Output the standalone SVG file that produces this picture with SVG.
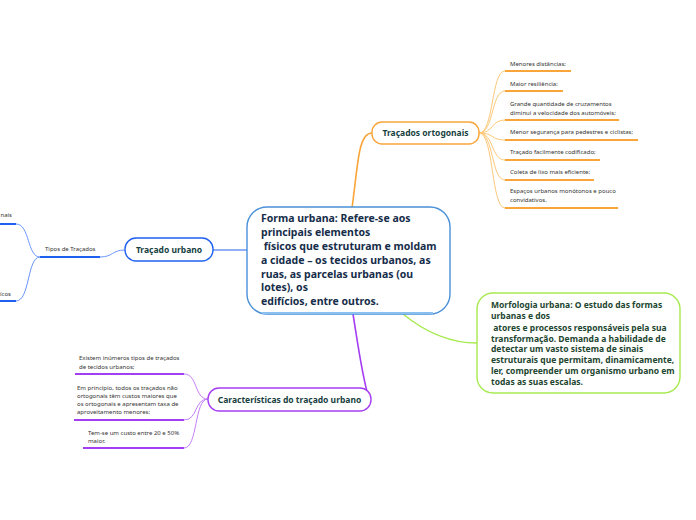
<svg xmlns="http://www.w3.org/2000/svg" width="696" height="520" viewBox="0 0 696 520">
<style>
.t{font-family:"Noto Sans","Open Sans","Liberation Sans",sans-serif}
.b{font-weight:bold;fill:#173f3f}
.s{font-size:6px;fill:#333}
.ul{stroke-width:2;fill:none}
.c{fill:none}
.pre{white-space:pre}
</style>
<rect width="696" height="520" fill="#fff"/>
<g id="connectors">
  <path class="c" d="M352,208 C358,165 358,133 372,133" stroke="#f9a53a" stroke-width="1.6"/>
  <path class="c" d="M247,250 L213,250" stroke="#2060f0" stroke-width="1.2"/>
  <path class="c" d="M353,314 C358,345 362,375 368,395" stroke="#a43ef2" stroke-width="1.6"/>
  <path class="c" d="M403,314 C425,332 450,343 477,343" stroke="#a6ea50" stroke-width="1.4"/>
  <g stroke="#fcc878" stroke-width="1">
    <path class="c" d="M479,133 C494,133 491,71 505,71"/>
    <path class="c" d="M479,133 C494,133 491,91 505,91"/>
    <path class="c" d="M479,133 C494,133 491,120 505,120"/>
    <path class="c" d="M479,133 C494,133 491,140 505,140"/>
    <path class="c" d="M479,133 C494,133 491,160 505,160"/>
    <path class="c" d="M479,133 C494,133 491,180 505,180"/>
    <path class="c" d="M479,133 C494,133 491,208 505,208"/>
  </g>
  <g stroke="#6a95ff" stroke-width="1">
    <path class="c" d="M125,250 C112,250 113,257 100,257"/>
    <path class="c" d="M40,257 C27,257 30,224 16,224"/>
    <path class="c" d="M40,257 C27,257 30,301 16,301"/>
  </g>
  <g stroke="#c47ff7" stroke-width="1">
    <path class="c" d="M208,399 C194,399 198,374 184,374"/>
    <path class="c" d="M208,399 C194,399 198,420 184,420"/>
    <path class="c" d="M208,399 C194,399 198,448 184,448"/>
  </g>
</g>
<g id="central">
  <rect x="247" y="207" width="203" height="107" rx="20" fill="#fff" stroke="#4a90d9" stroke-width="1.4"/>
  <path d="M262,313 L433,313" stroke="#8ac0f0" stroke-width="2"/>
  <text class="t b pre" font-size="10.5" style="fill:#162d4a">
    <tspan x="261" y="222">Forma urbana: Refere-se aos</tspan>
    <tspan x="261" y="236">principais elementos</tspan>
    <tspan x="261" y="250"> físicos que estruturam e moldam</tspan>
    <tspan x="261" y="264">a cidade – os tecidos urbanos, as</tspan>
    <tspan x="261" y="278">ruas, as parcelas urbanas (ou</tspan>
    <tspan x="261" y="291">lotes), os</tspan>
    <tspan x="261" y="305">edifícios, entre outros.</tspan>
  </text>
</g>
<g id="tracados-ortogonais">
  <rect x="372" y="122" width="107" height="22" rx="10" fill="#fff" stroke="#f9a53a" stroke-width="1.4"/>
  <text class="t b" font-size="8.5" x="425.5" y="136" text-anchor="middle">Traçados ortogonais</text>
</g>
<g id="o1"><text class="t s" x="510" y="66">Menores distâncias;</text><path class="ul" d="M505,71 L571,71" stroke="#f9a53a"/></g>
<g id="o2"><text class="t s" x="510" y="86">Maior resiliência;</text><path class="ul" d="M505,91 L563,91" stroke="#f9a53a"/></g>
<g id="o3"><text class="t s"><tspan x="510" y="106">Grande quantidade de cruzamentos</tspan><tspan x="510" y="115">diminui a velocidade dos automóveis;</tspan></text><path class="ul" d="M505,120 L619,120" stroke="#f9a53a"/></g>
<g id="o4"><text class="t s" x="510" y="134">Menor segurança para pedestres e ciclistas;</text><path class="ul" d="M505,140 L638,140" stroke="#f9a53a"/></g>
<g id="o5"><text class="t s" x="510" y="154">Traçado facilmente codificado;</text><path class="ul" d="M505,160 L600,160" stroke="#f9a53a"/></g>
<g id="o6"><text class="t s" x="510" y="174">Coleta de lixo mais eficiente;</text><path class="ul" d="M505,180 L594,180" stroke="#f9a53a"/></g>
<g id="o7"><text class="t s"><tspan x="510" y="193">Espaços urbanos monótonos e pouco</tspan><tspan x="510" y="202">convidativos.</tspan></text><path class="ul" d="M505,208 L618,208" stroke="#f9a53a"/></g>
<g id="tracado-urbano">
  <rect x="125" y="238" width="88" height="23" rx="11" fill="#fff" stroke="#2060f0" stroke-width="1.4"/>
  <text class="t b" font-size="8.5" x="169" y="252.5" text-anchor="middle">Traçado urbano</text>
</g>
<g id="tipos"><text class="t s" x="45" y="251">Tipos de Traçados</text><path class="ul" d="M40,257 L100,257" stroke="#2060f0"/></g>
<g id="b1"><text class="t s" x="12" y="217" text-anchor="end">nais</text><path class="ul" d="M0,224 L16,224" stroke="#2060f0"/></g>
<g id="b2"><text class="t s" x="11" y="296" text-anchor="end">icos</text><path class="ul" d="M0,301 L16,301" stroke="#2060f0"/></g>
<g id="caracteristicas">
  <rect x="208" y="388" width="163" height="23" rx="11" fill="#fff" stroke="#a43ef2" stroke-width="1.4"/>
  <text class="t b" font-size="8.5" x="289.5" y="402.5" text-anchor="middle">Características do traçado urbano</text>
</g>
<g id="p1"><text class="t s"><tspan x="79" y="360">Existem inúmeros tipos de traçados</tspan><tspan x="79" y="369">de tecidos urbanos;</tspan></text><path class="ul" d="M75,374 L184,374" stroke="#a43ef2"/></g>
<g id="p2"><text class="t s"><tspan x="77" y="390">Em princípio, todos os traçados não</tspan><tspan x="77" y="398">ortogonais têm custos maiores que</tspan><tspan x="77" y="406">os ortogonais e apresentam taxa de</tspan><tspan x="77" y="414">aproveitamento menores;</tspan></text><path class="ul" d="M74,420 L184,420" stroke="#a43ef2"/></g>
<g id="p3"><text class="t s"><tspan x="88" y="434.5">Tem-se um custo entre 20 e 50%</tspan><tspan x="88" y="443">maior.</tspan></text><path class="ul" d="M83,448 L184,448" stroke="#a43ef2"/></g>
<g id="morfologia">
  <rect x="477" y="293" width="203" height="100" rx="16" fill="#fff" stroke="#a6ea50" stroke-width="1.4"/>
  <text class="t b pre" font-size="8.5" style="fill:#1d4630">
    <tspan x="491" y="308">Morfologia urbana: O estudo das formas</tspan>
    <tspan x="491" y="319">urbanas e dos</tspan>
    <tspan x="491" y="330.5"> atores e processos responsáveis pela sua</tspan>
    <tspan x="491" y="341.5">transformação. Demanda a habilidade de</tspan>
    <tspan x="491" y="352">detectar um vasto sistema de sinais</tspan>
    <tspan x="491" y="362.5">estruturais que permitam, dinamicamente,</tspan>
    <tspan x="491" y="373.5">ler, compreender um organismo urbano em</tspan>
    <tspan x="491" y="385">todas as suas escalas.</tspan>
  </text>
</g>
</svg>
